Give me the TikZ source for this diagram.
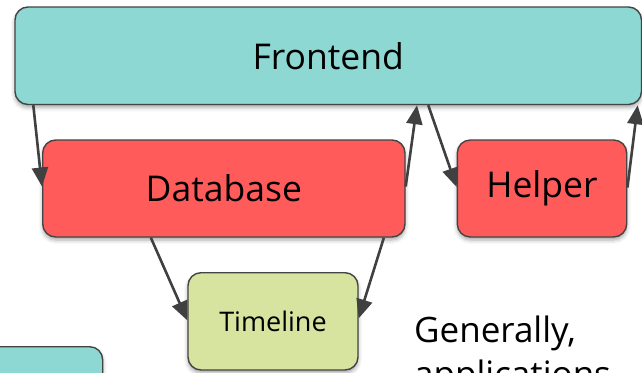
\documentclass[tikz,border=0pt]{standalone}
\usepackage{fontspec}
\setmainfont{Open Sans}
\usetikzlibrary{arrows.meta,shadows.blur}

\definecolor{boxcyan}{HTML}{8DD8D3}
\definecolor{boxred}{HTML}{FF5B5B}
\definecolor{boxgreen}{HTML}{D6E4A0}
\definecolor{edgegray}{HTML}{444444}
\definecolor{linkgray}{HTML}{404040}

\tikzset{
  box/.style={draw=edgegray, line width=1.4pt, rounded corners=13pt,
    inner sep=0pt, text=black,
    blur shadow={shadow xshift=0pt, shadow yshift=-3pt,
      shadow blur radius=4pt, shadow opacity=35}},
  link/.style={draw=linkgray, line width=2.6pt,
    -{Triangle[length=19pt, width=16pt]}},
  bigtext/.style={font=\fontsize{35.5}{40}\selectfont},
}

\begin{document}
\begin{tikzpicture}[x=1pt, y=-1pt]
  \useasboundingbox (0,0) rectangle (642,372);

  % service boxes
  \node[box, bigtext, fill=boxcyan, minimum width=626.5pt, minimum height=97.5pt]
        (fe) at (328.25,55.75) {Frontend};
  \node[box, bigtext, fill=boxred, minimum width=362.3pt, minimum height=97pt]
        (db) at (223.85,188.5) {Database};
  \node[box, bigtext, fill=boxred, minimum width=169.4pt, minimum height=97pt]
        (hp) at (542,188.5) {Helper};
  \node[box, fill=boxgreen, minimum width=170pt, minimum height=97.3pt,
        font=\fontsize{27}{32}\selectfont] (tl) at (273,321.35) {Timeline};
  \node[box, fill=boxcyan, minimum width=162.7pt, minimum height=97.3pt]
        (aux) at (21.35,395.35) {};

  % side note (anchored on the baseline of its last line)
  \node[anchor=base west, align=left, inner sep=0pt,
        font=\fontsize{35}{40}\selectfont] (note) at (414,386)
        {Generally,\\[4pt]applications};

  % calls between services
  \draw[link] ([xshift=19pt]fe.south west) -- ([yshift=2pt]db.west);
  \draw[link] ([yshift=2pt]db.east) -- ([xshift=88.75pt]fe.south);
  \draw[link] ([xshift=100pt]fe.south) -- ([yshift=1.5pt]hp.west);
  \draw[link] ([yshift=1pt]hp.east) -- ([xshift=-4.5pt]fe.south east);
  \draw[link] ([xshift=-73pt]db.south) -- ([yshift=1pt]tl.west);
  \draw[link] ([xshift=160pt]db.south) -- ([yshift=3pt]tl.east);
\end{tikzpicture}
\end{document}
